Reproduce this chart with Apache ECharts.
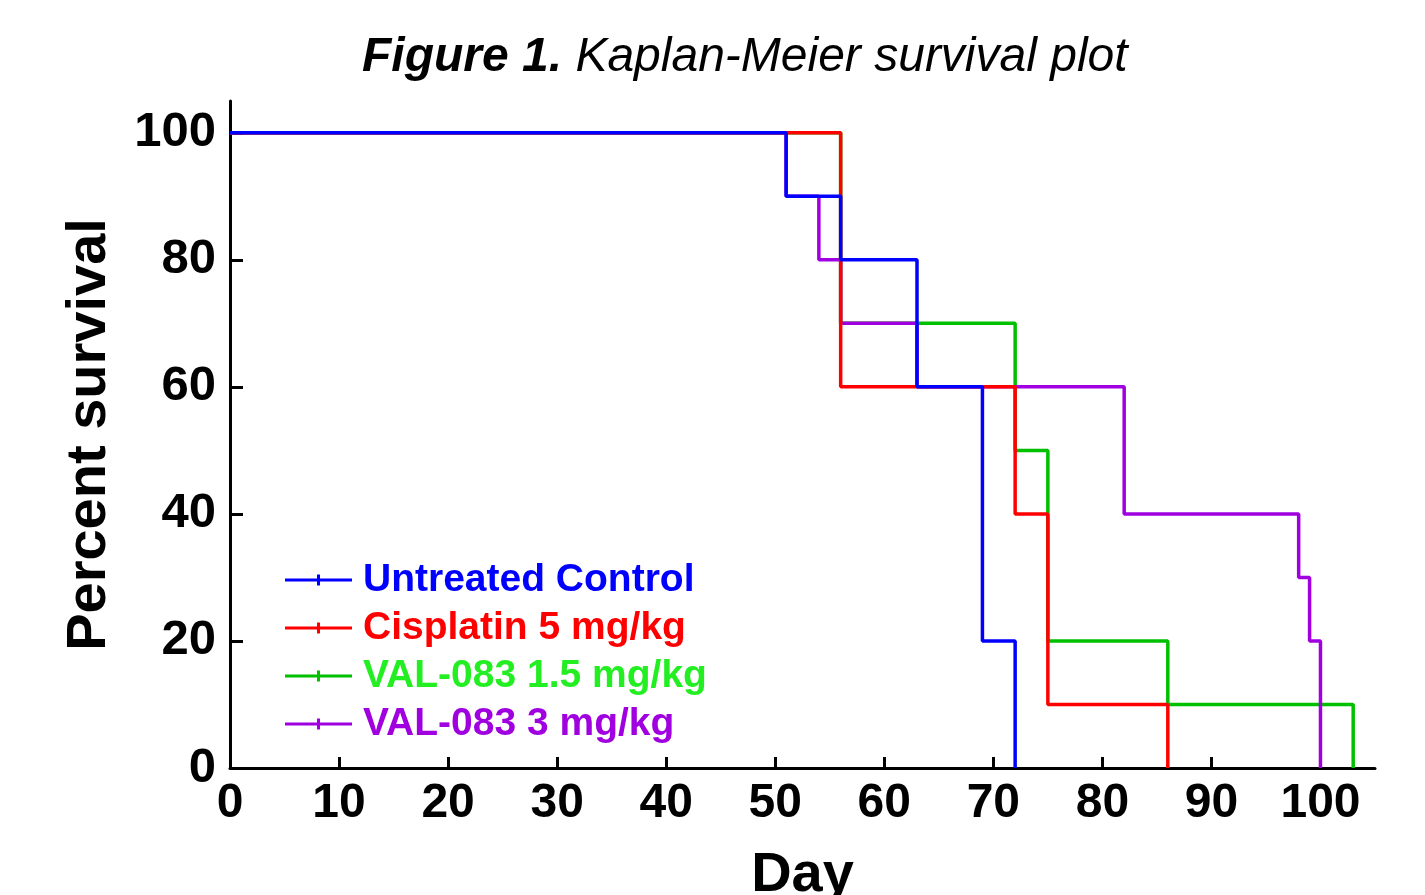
<!DOCTYPE html>
<html>
<head>
<meta charset="utf-8">
<script src="https://cdn.jsdelivr.net/npm/echarts@6/dist/echarts.min.js"></script>
<style>
  html, body { margin: 0; padding: 0; background: #fff; }
  #chart { width: 1425px; height: 895px; }
</style>
</head>
<body>
<div id="chart"></div>
<script>
// Kaplan-Meier step points (day, percent survival)
var controlDays = [0, 51, 56, 63, 69, 72];
var controlSurv = [100, 90, 80, 60, 20, 0];
var cisDays = [0, 56, 72, 75, 86];
var cisSurv = [100, 60, 40, 10, 0];
var val15Days = [0, 56, 72, 75, 86, 103];
var val15Surv = [100, 70, 50, 20, 10, 0];
var val3Days = [0, 51, 54, 56, 63, 82, 98, 99, 100];
var val3Surv = [100, 90, 80, 70, 60, 40, 30, 20, 0];

var seriesNames = ['Untreated Control', 'Cisplatin 5 mg/kg', 'VAL-083 1.5 mg/kg', 'VAL-083 3 mg/kg'];
var xTicks = [0, 10, 20, 30, 40, 50, 60, 70, 80, 90, 100];
var yTicks = [0, 20, 40, 60, 80, 100];

function zip(days, surv) {
  return days.map(function (d, i) { return [d, surv[i]]; });
}

function render_km(id) {
  var chartDom = document.getElementById(id);
  var myChart = echarts.init(chartDom);
  var font = 'Liberation Sans, Arial, sans-serif';
  var icon = 'path://M0,4L67,4L67,7L0,7Z M32,0L35,0L35,11L32,11Z';

  function line(name, data, color) {
    return {
      name: name,
      type: 'line',
      step: 'end',
      symbol: 'none',
      data: data,
      color: color,
      itemStyle: { color: color },
      lineStyle: { color: color, width: 3.5 }
    };
  }

  var option = {
    animation: false,
    backgroundColor: '#fff',
    title: {
      left: 362,
      top: 34,
      padding: 0,
      text: '{b|Figure 1. }{i|Kaplan-Meier survival plot}',
      textStyle: {
        rich: {
          b: { fontFamily: font, fontSize: 48, fontWeight: 'bold', fontStyle: 'italic', color: '#000' },
          i: { fontFamily: font, fontSize: 48, fontWeight: 'normal', fontStyle: 'italic', color: '#000' }
        }
      }
    },
    legend: {
      orient: 'vertical',
      left: 285,
      top: 556,
      padding: 0,
      itemWidth: 67,
      itemHeight: 11,
      itemGap: 0,
      icon: icon,
      textStyle: { fontFamily: font, fontSize: 39, fontWeight: 'bold', lineHeight: 48, padding: [0, 0, 0, 6] },
      data: [
        { name: seriesNames[0], textStyle: { color: '#0000ff' } },
        { name: seriesNames[1], textStyle: { color: '#ff0000' } },
        { name: seriesNames[2], textStyle: { color: '#22ee22' } },
        { name: seriesNames[3], textStyle: { color: '#a000e0' } }
      ]
    },
    grid: { left: 230, right: 50, top: 101, bottom: 127, outerBoundsMode: 'none' },
    xAxis: {
      type: 'value',
      min: 0,
      max: 105,
      name: 'Day',
      nameLocation: 'middle',
      nameGap: 80,
      nameTextStyle: { fontFamily: font, fontSize: 56, fontWeight: 'bold', color: '#000' },
      splitLine: { show: false },
      axisLine: { lineStyle: { color: '#000', width: 3 } },
      axisTick: { inside: true, length: 11, lineStyle: { color: '#000', width: 3 }, customValues: xTicks },
      axisLabel: { customValues: xTicks, margin: 12, fontFamily: font, fontSize: 48, fontWeight: 'bold', color: '#000' }
    },
    yAxis: {
      type: 'value',
      min: 0,
      max: 105,
      name: 'Percent survival',
      nameLocation: 'middle',
      nameRotate: 90,
      nameGap: 112,
      nameTextStyle: { fontFamily: font, fontSize: 56, fontWeight: 'bold', color: '#000' },
      splitLine: { show: false },
      axisLine: { show: true, lineStyle: { color: '#000', width: 3 } },
      axisTick: { show: true, inside: true, length: 13, lineStyle: { color: '#000', width: 3 }, customValues: yTicks },
      axisLabel: { customValues: yTicks, margin: 14, fontFamily: font, fontSize: 49, fontWeight: 'bold', color: '#000' }
    },
    // drawing order: green at the bottom, blue on top
    series: [
      line(seriesNames[2], zip(val15Days, val15Surv), '#00c000'),
      line(seriesNames[3], zip(val3Days, val3Surv), '#a000e0'),
      line(seriesNames[1], zip(cisDays, cisSurv), '#ff0000'),
      line(seriesNames[0], zip(controlDays, controlSurv), '#0000ff')
    ]
  };
  option && myChart.setOption(option);
}

render_km('chart');
</script>
</body>
</html>
